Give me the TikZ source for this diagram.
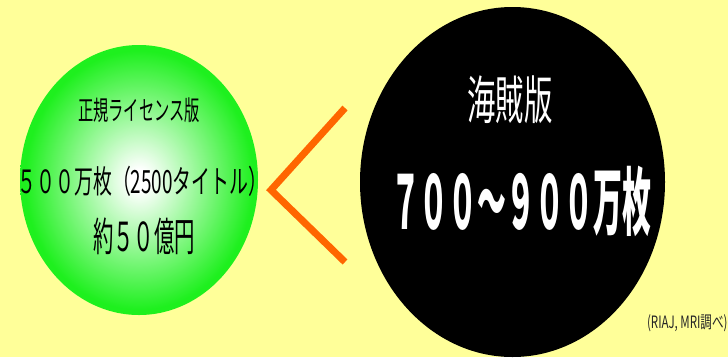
\documentclass[tikz,border=0pt]{standalone}
\usepackage{fontspec}
\setmainfont{Noto Sans CJK JP}
\definecolor{bgyellow}{RGB}{255,255,153}
\definecolor{ballgreen}{RGB}{30,240,30}
\definecolor{chevron}{RGB}{255,102,0}
\pgfdeclareradialshading{greenball}{\pgfpoint{0bp}{0bp}}{color(0bp)=(white); color(2bp)=(white); color(24bp)=(ballgreen); color(50bp)=(ballgreen)}
\tikzset{
  txt/.style={inner sep=0pt, outer sep=0pt}
}
\newcommand{\sq}[3]{\scalebox{#1}[1]{\fontsize{#2}{#2}\selectfont #3}}
\begin{document}
\begin{tikzpicture}[x=1pt,y=-1pt]
\fill[bgyellow] (0,0) rectangle (728,357);
\useasboundingbox (0,0) rectangle (728,357);
% green ellipse
\shade[shading=greenball] (139,180) ellipse [x radius=119, y radius=135];
% black ellipse
\fill[black] (512.5,182) ellipse [x radius=152.5, y radius=175];
% chevron
\coordinate (ct) at (345,108);
\coordinate (cv) at (271,190);
\coordinate (cb) at (345,262);
\draw[chevron, line width=7pt, miter limit=10] (ct) -- (cv) -- (cb);
% left texts
\node[txt] (l1) at (139,110) {\sq{0.565}{27}{正規ライセンス版}};
\node[txt] (l2) at (142.5,181) {\sq{0.59}{32}{５００万枚（2500タイトル）}};
\node[txt] (l3) at (144,236) {\sq{0.51}{40}{約５０億円}};
% right texts
\node[txt, text=white] (r1) at (510,100) {\sq{0.545}{52}{海賊版}};
\node[txt, text=white] (r2) at (521,201) {\sq{0.39}{74}{\bfseries ７００～９００万枚}};
% source
\node[txt, anchor=east, text=black!85] (src) at (727.5,323) {\sq{0.68}{17}{(RIAJ, MRI調べ)}};
\end{tikzpicture}
\end{document}
